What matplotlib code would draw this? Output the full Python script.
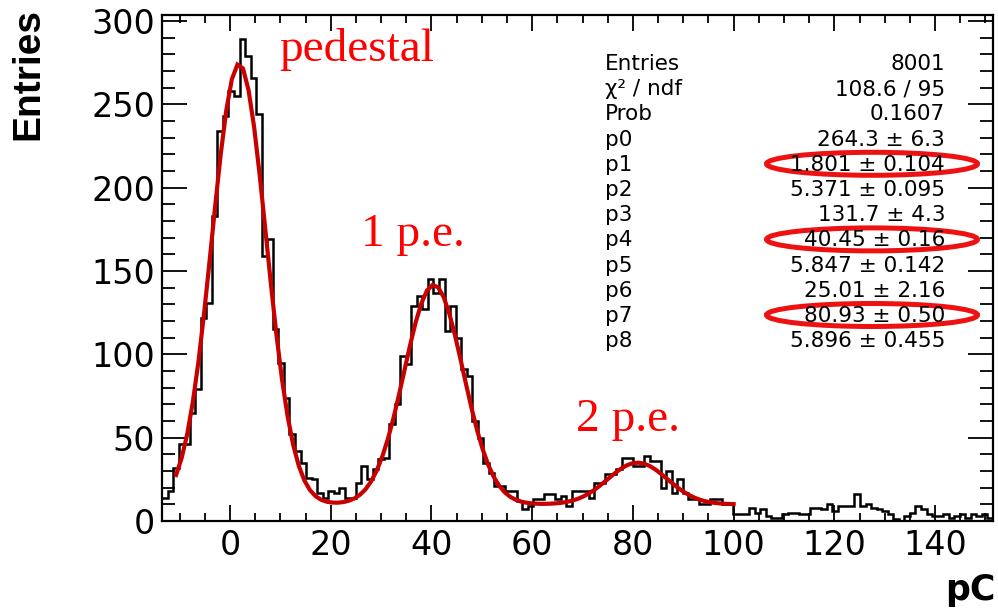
import numpy as np
import matplotlib
matplotlib.use("Agg")
import matplotlib.pyplot as plt
from matplotlib.patches import Ellipse
from matplotlib.ticker import MultipleLocator

# ---------------- data ----------------
x_min, x_max, n_bins = -13.5, 151.5, 150
counts = [
    14, 18, 32, 46, 46, 65, 79, 122, 131, 183,
    234, 243, 258, 255, 289, 279, 266, 244, 159, 169,
    115, 95, 74, 52, 42, 35, 26, 25, 17, 14,
    18, 17, 20, 14, 14, 23, 33, 25, 31, 37,
    38, 58, 70, 99, 94, 129, 135, 127, 145, 137,
    145, 114, 129, 110, 91, 87, 60, 50, 35, 29,
    21, 21, 18, 18, 12, 7, 9, 13, 13, 16,
    16, 13, 15, 9, 18, 18, 18, 14, 23, 23,
    28, 28, 31, 38, 38, 33, 33, 39, 36, 36,
    20, 30, 17, 25, 17, 13, 13, 10, 10, 13,
    13, 10, 10, 4, 4, 4, 8, 5, 7, 3,
    2, 2, 4, 5, 5, 4, 4, 8, 8, 7,
    10, 6, 9, 9, 9, 16, 9, 10, 8, 7,
    6, 4, 1, 0, 3, 5, 9, 7, 4, 3,
    3, 4, 2, 3, 4, 2, 4, 3, 4, 2,
]

# fit (three Gaussians on a flat background)
amps = [264.3, 131.7, 25.01]
means = [1.801, 40.45, 80.93]
sigmas = [5.371, 5.847, 5.896]
background = 10.0
fit_range = (-10.7, 100.0)

stat_names = ["Entries", "χ² / ndf", "Prob", "p0", "p1", "p2", "p3",
              "p4", "p5", "p6", "p7", "p8"]
stat_values = ["8001", "108.6 / 95", "0.1607", "264.3 ± 6.3",
               "1.801 ± 0.104", "5.371 ± 0.095", "131.7 ± 4.3",
               "40.45 ± 0.16", "5.847 ± 0.142", "25.01 ± 2.16",
               "80.93 ± 0.50", "5.896 ± 0.455"]
circled = ["p1", "p4", "p7"]

peak_labels = ["pedestal", "1 p.e.", "2 p.e."]

# ---------------- figure ----------------
W, H = 998, 609
fig = plt.figure(figsize=(W / 100, H / 100), dpi=100)
ax = fig.add_axes([162 / W, 1 - 521 / H, (993 - 162) / W, (521 - 15) / H])

edges = np.linspace(x_min, x_max, n_bins + 1)
ax.stairs(counts, edges, baseline=None, color="black", lw=1.8)

xf = np.linspace(fit_range[0], fit_range[1], 101)
yf = np.full_like(xf, background)
for a, m, s in zip(amps, means, sigmas):
    yf = yf + a * np.exp(-0.5 * ((xf - m) / s) ** 2)
ax.plot(xf, yf, color="#c80000", lw=3.0, solid_joinstyle="miter")

ax.set_xlim(x_min, x_max)
ax.set_ylim(0, 303.6)

ax.xaxis.set_major_locator(MultipleLocator(20))
ax.xaxis.set_minor_locator(MultipleLocator(5))
ax.yaxis.set_major_locator(MultipleLocator(50))
ax.yaxis.set_minor_locator(MultipleLocator(10))

ax.tick_params(axis="x", which="major", direction="in", length=11.5, width=1.3,
               top=True, bottom=True, pad=6, labelsize=24)
ax.tick_params(axis="x", which="minor", direction="in", length=5.8, width=1.3,
               top=True, bottom=True)
ax.tick_params(axis="y", which="major", direction="in", length=18, width=1.3,
               left=True, right=True, pad=5, labelsize=24)
ax.tick_params(axis="y", which="minor", direction="in", length=9.4, width=1.3,
               left=True, right=True)
for lab in ax.get_xticklabels() + ax.get_yticklabels():
    lab.set_family("DejaVu Sans")
for sp in ax.spines.values():
    sp.set_linewidth(1.6)

# axis titles
fig.text(28 / W, 1 - 8 / H, "Entries", rotation=90, ha="center", va="top",
         fontsize=28, fontweight="bold", family="Liberation Sans")
fig.text(996 / W, 1 - 590 / H, "pC", ha="right", va="center",
         fontsize=25, fontweight="bold", family="DejaVu Sans")

# peak annotations (figure pixel positions of text baselines)
ann_pos = [(279, 61), (361, 246), (576, 431)]
for txt, (px, py) in zip(peak_labels, ann_pos):
    fig.text(px / W, 1 - py / H, txt, ha="left", va="baseline",
             color="#ff0000", fontsize=34, family="Liberation Serif")

# stats box text
y0, dy = 70, 25.2
for i, (n, v) in enumerate(zip(stat_names, stat_values)):
    yy = 1 - (y0 + i * dy) / H
    fig.text(605 / W, yy, n, ha="left", va="baseline", fontsize=15.5,
             family="DejaVu Sans")
    fig.text(945 / W, yy, v, ha="right", va="baseline", fontsize=15.5,
             family="DejaVu Sans")
    if n in circled:
        cy = y0 + i * dy - 7
        e = Ellipse((872 / W, 1 - cy / H), 211 / W, 23 / H,
                    transform=fig.transFigure, fill=False,
                    edgecolor="#ee1111", lw=3.6)
        fig.add_artist(e)

fig.savefig("out.png", dpi=100)
